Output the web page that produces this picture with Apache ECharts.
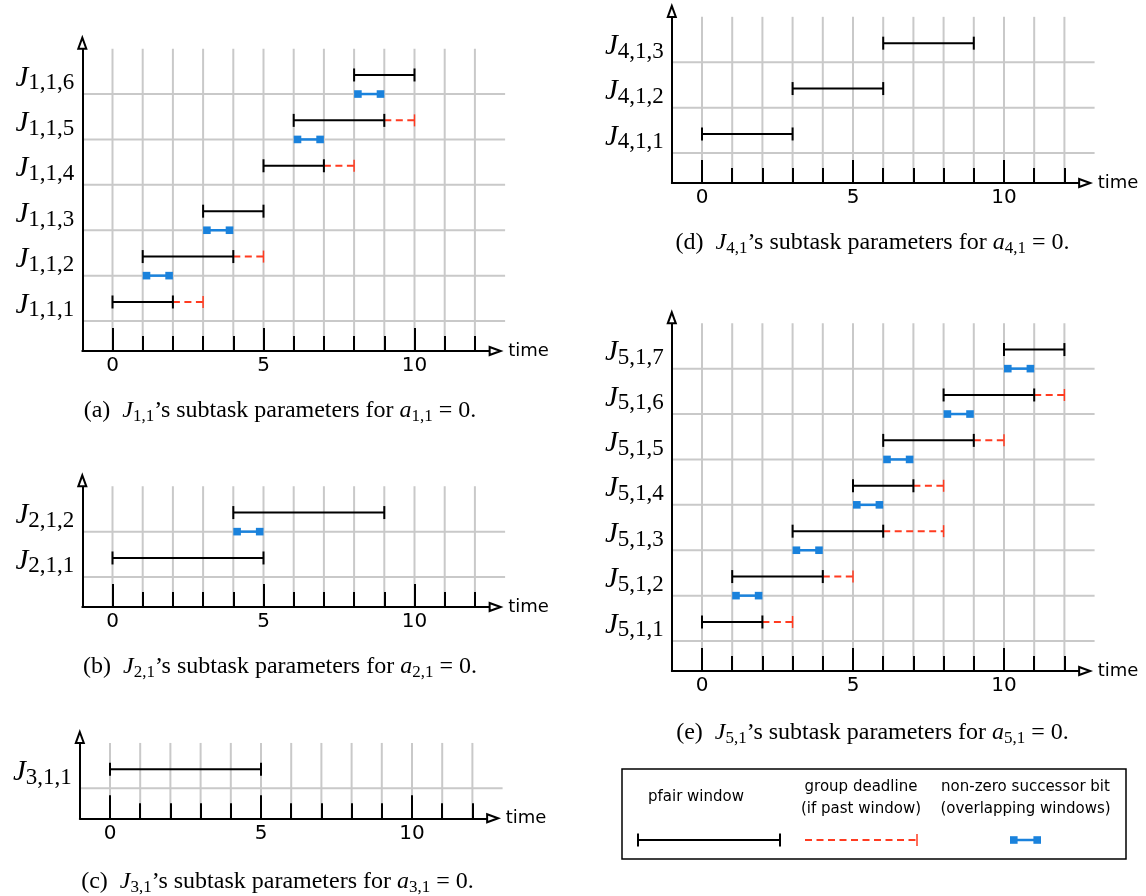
<!DOCTYPE html>
<html>
<head>
<meta charset="utf-8">
<title>Pfair subtask windows</title>
<script src="https://cdn.jsdelivr.net/npm/echarts@6.0.0/dist/echarts.min.js"></script>
<style>
html, body { margin: 0; padding: 0; background: #fff; }
#main { width: 1146px; height: 896px; }
</style>
</head>
<body>
<div id="main"></div>
<script>
// time axis
var xMajor = [0, 5, 10];
var xMinor = [1, 2, 3, 4, 6, 7, 8, 9, 11, 12];
var gridX = [0, 1, 2, 3, 4, 5, 6, 7, 8, 9, 10, 11, 12];

// (a) J_{1,1}
var rows1 = ['1,1,1', '1,1,2', '1,1,3', '1,1,4', '1,1,5', '1,1,6'];
var winStart1 = [0, 1, 3, 5, 6, 8];
var winEnd1 = [2, 4, 5, 7, 9, 10];
var deadline1 = [3, 5, null, 8, 10, null];
var bitStart1 = [1, 3, null, 6, 8, null];
var bitEnd1 = [2, 4, null, 7, 9, null];

// (b) J_{2,1}
var rows2 = ['2,1,1', '2,1,2'];
var winStart2 = [0, 4];
var winEnd2 = [5, 9];
var deadline2 = [null, null];
var bitStart2 = [4, null];
var bitEnd2 = [5, null];

// (c) J_{3,1}
var rows3 = ['3,1,1'];
var winStart3 = [0];
var winEnd3 = [5];
var deadline3 = [null];
var bitStart3 = [null];
var bitEnd3 = [null];

// (d) J_{4,1}
var rows4 = ['4,1,1', '4,1,2', '4,1,3'];
var winStart4 = [0, 3, 6];
var winEnd4 = [3, 6, 9];
var deadline4 = [null, null, null];
var bitStart4 = [null, null, null];
var bitEnd4 = [null, null, null];

// (e) J_{5,1}
var rows5 = ['5,1,1', '5,1,2', '5,1,3', '5,1,4', '5,1,5', '5,1,6', '5,1,7'];
var winStart5 = [0, 1, 3, 5, 6, 8, 10];
var winEnd5 = [2, 4, 6, 7, 9, 11, 12];
var deadline5 = [3, 5, 8, 8, 10, 12, null];
var bitStart5 = [1, 3, 5, 6, 8, 10, null];
var bitEnd5 = [2, 4, 6, 7, 9, 11, null];

var captionIds = ['a', 'b', 'c', 'd', 'e'];
var captionSubs = ['1,1', '2,1', '3,1', '4,1', '5,1'];

var panels = [
    {rows: rows1, ws: winStart1, we: winEnd1, dl: deadline1, bs: bitStart1, be: bitEnd1},
    {rows: rows2, ws: winStart2, we: winEnd2, dl: deadline2, bs: bitStart2, be: bitEnd2},
    {rows: rows3, ws: winStart3, we: winEnd3, dl: deadline3, bs: bitStart3, be: bitEnd3},
    {rows: rows4, ws: winStart4, we: winEnd4, dl: deadline4, bs: bitStart4, be: bitEnd4},
    {rows: rows5, ws: winStart5, we: winEnd5, dl: deadline5, bs: bitStart5, be: bitEnd5}
];

// layout (pixels)
var layout = [
    {left: 82.3, axisY: 351, capX: 280, capY: 411},
    {left: 82.3, axisY: 607, capX: 280, capY: 667},
    {left: 79.8, axisY: 818.3, capX: 277.5, capY: 882},
    {left: 671.8, axisY: 183, capX: 872.5, capY: 243},
    {left: 671.8, axisY: 671, capX: 872.5, capY: 733}
];

var ROW_H = 45.4;
var UNIT = 30.2;
var X_MIN = -1, X_MAX = 12.67, X_GRID_END = 13;
var Y_MIN = -0.66, Y_PAD = 0.12;
var WIN_OFF = 0.42, LABEL_OFF = 0.355;
var GRID_COLOR = '#c9c9c9';
var RED = '#ff3b20';
var BLUE = '#1a82dc';

function seg(x1, y1, x2, y2, stroke, width, dash) {
    return {
        type: 'line',
        shape: {x1: x1, y1: y1, x2: x2, y2: y2},
        style: {stroke: stroke, lineWidth: width, lineDash: dash || null}
    };
}

function windowShape(a, b) {
    return [
        seg(a[0], a[1], b[0], b[1], '#000', 2),
        seg(a[0], a[1] - 6.5, a[0], a[1] + 6.5, '#000', 2),
        seg(b[0], b[1] - 6.5, b[0], b[1] + 6.5, '#000', 2)
    ];
}

function deadlineShape(a, b) {
    return [
        seg(a[0], a[1], b[0], b[1], RED, 2, [7, 4.5]),
        seg(b[0], b[1] - 6, b[0], b[1] + 6, RED, 1.5)
    ];
}

function bitShape(a, b) {
    var s = 7.6;
    return [
        seg(a[0] + s / 2, a[1], b[0] - s / 2, b[1], BLUE, 2.5),
        {type: 'rect', shape: {x: a[0], y: a[1] - s / 2, width: s, height: s}, style: {fill: BLUE}},
        {type: 'rect', shape: {x: b[0] - s, y: b[1] - s / 2, width: s, height: s}, style: {fill: BLUE}}
    ];
}

var subRich = {
    j: {fontFamily: 'Liberation Serif', fontStyle: 'italic', fontSize: 29, lineHeight: 29, color: '#000'},
    s: {fontFamily: 'Liberation Serif', fontSize: 23, lineHeight: 23, padding: [11, 0, 0, 0], color: '#000'}
};

var grids = [], xAxes = [], yAxes = [], series = [];

panels.forEach(function (p, i) {
    var n = p.rows.length;
    var lay = layout[i];
    var h = (n + Y_PAD - Y_MIN) * ROW_H;
    grids.push({
        left: lay.left, top: lay.axisY - h,
        width: (X_MAX - X_MIN) * UNIT, height: h,
        outerBoundsMode: 'none'
    });

    // main time axis: line, arrow, long ticks, labels
    xAxes.push({
        gridIndex: i, type: 'value', min: X_MIN, max: X_MAX, position: 'bottom', z: 3,
        name: 'time', nameLocation: 'end', nameGap: 13,
        nameTextStyle: {color: '#000', fontFamily: 'DejaVu Sans', fontSize: 18, align: 'left', verticalAlign: 'middle'},
        axisLine: {show: true, onZero: false, symbol: ['none', 'emptyTriangle'], symbolSize: [8, 11],
            lineStyle: {color: '#000', width: 2}},
        axisTick: {show: true, inside: true, length: 23, customValues: xMajor, lineStyle: {color: '#000', width: 2}},
        axisLabel: {show: true, customValues: xMajor, margin: 5, color: '#000', fontFamily: 'DejaVu Sans', fontSize: 20},
        splitLine: {show: false}
    });
    // short ticks
    xAxes.push({
        gridIndex: i, type: 'value', min: X_MIN, max: X_MAX, position: 'bottom', offset: 0, z: 3,
        axisLine: {show: false, onZero: false},
        axisTick: {show: true, inside: true, length: 15, customValues: xMinor, lineStyle: {color: '#000', width: 2}},
        axisLabel: {show: false},
        splitLine: {show: false}
    });

    var labelPos = p.rows.map(function (r, k) { return k + LABEL_OFF; });
    yAxes.push({
        gridIndex: i, type: 'value', min: Y_MIN, max: n + Y_PAD, z: 3,
        axisLine: {show: true, onZero: false, symbol: ['none', 'emptyTriangle'], symbolSize: [8, 11],
            lineStyle: {color: '#000', width: 2}},
        axisTick: {show: false},
        splitLine: {show: false},
        axisLabel: {
            show: true, customValues: labelPos, margin: 8,
            formatter: function (v) {
                return '{j|J}{s|' + p.rows[Math.floor(v + 0.01)] + '}';
            },
            rich: subRich
        }
    });

    var rowIdx = p.rows.map(function (r, k) { return [k]; });
    var winData = p.ws.map(function (s, k) { return [s, p.we[k], k]; });
    var dlData = [], bitData = [];
    p.dl.forEach(function (d, k) {
        if (d !== null) dlData.push([p.we[k], d, k]);
    });
    p.bs.forEach(function (b, k) {
        if (b !== null) bitData.push([b, p.be[k], k + 1]);
    });

    var base = {type: 'custom', coordinateSystem: 'cartesian2d', xAxisIndex: 2 * i, yAxisIndex: i, silent: true};

    // grid lines
    series.push(Object.assign({}, base, {
        name: 'vgrid' + i, z: 1,
        data: gridX.map(function (x) { return [x]; }),
        renderItem: function (params, api) {
            var a = api.coord([api.value(0), Y_MIN]);
            var b = api.coord([api.value(0), n]);
            return seg(a[0], a[1], b[0], b[1], GRID_COLOR, 2);
        }
    }));
    series.push(Object.assign({}, base, {
        name: 'hgrid' + i, z: 1,
        data: rowIdx,
        renderItem: function (params, api) {
            var a = api.coord([X_MIN, api.value(0)]);
            var b = api.coord([X_GRID_END, api.value(0)]);
            return seg(a[0], a[1], b[0], b[1], GRID_COLOR, 2);
        }
    }));
    // group deadlines
    series.push(Object.assign({}, base, {
        name: 'deadline' + i,
        data: dlData,
        renderItem: function (params, api) {
            var y = api.value(2) + WIN_OFF;
            return {type: 'group', children: deadlineShape(api.coord([api.value(0), y]), api.coord([api.value(1), y]))};
        }
    }));
    // pfair windows
    series.push(Object.assign({}, base, {
        name: 'window' + i,
        data: winData,
        renderItem: function (params, api) {
            var y = api.value(2) + WIN_OFF;
            return {type: 'group', children: windowShape(api.coord([api.value(0), y]), api.coord([api.value(1), y]))};
        }
    }));
    // successor bits
    series.push(Object.assign({}, base, {
        name: 'bit' + i,
        data: bitData,
        renderItem: function (params, api) {
            var y = api.value(2);
            return {type: 'group', children: bitShape(api.coord([api.value(0), y]), api.coord([api.value(1), y]))};
        }
    }));
});

// captions
var capRich = {
    n: {fontFamily: 'Liberation Serif', fontSize: 24, lineHeight: 24, color: '#000'},
    i: {fontFamily: 'Liberation Serif', fontStyle: 'italic', fontSize: 24, lineHeight: 24, color: '#000'},
    s: {fontFamily: 'Liberation Serif', fontSize: 17, lineHeight: 17, padding: [12, 0, 0, 0], color: '#000'}
};
var graphics = captionIds.map(function (id, i) {
    return {
        type: 'text', x: layout[i].capX, y: layout[i].capY, silent: true,
        style: {
            text: '{n|(' + id + ')  }{i|J}{s|' + captionSubs[i] + '}{n|\u2019s subtask parameters for }{i|a}{s|' +
                captionSubs[i] + '}{n| = 0.}',
            rich: capRich,
            align: 'center', verticalAlign: 'middle'
        }
    };
});

// legend box
var legendFont = {fontFamily: 'DejaVu Sans', fontSize: 15, lineHeight: 22.6, fill: '#000', align: 'center', verticalAlign: 'middle'};
graphics.push(
    {type: 'rect', silent: true, shape: {x: 622, y: 769, width: 504, height: 90},
        style: {fill: 'none', stroke: '#000', lineWidth: 1.5}},
    {type: 'text', silent: true, x: 696, y: 797.5, style: Object.assign({text: 'pfair window'}, legendFont)},
    {type: 'text', silent: true, x: 861, y: 798, style: Object.assign({text: 'group deadline\n(if past window)'}, legendFont)},
    {type: 'text', silent: true, x: 1025.5, y: 798, style: Object.assign({text: 'non-zero successor bit\n(overlapping windows)'}, legendFont)},
    {type: 'group', silent: true, children: windowShape([638, 840], [780, 840])},
    {type: 'group', silent: true, children: deadlineShape([805, 840], [917, 840])},
    {type: 'group', silent: true, children: bitShape([1010, 840], [1041, 840])}
);

var chart = echarts.init(document.getElementById('main'), null, {renderer: 'canvas'});
chart.setOption({
    backgroundColor: '#fff',
    animation: false,
    grid: grids,
    xAxis: xAxes,
    yAxis: yAxes,
    series: series,
    graphic: graphics
});
</script>
</body>
</html>
